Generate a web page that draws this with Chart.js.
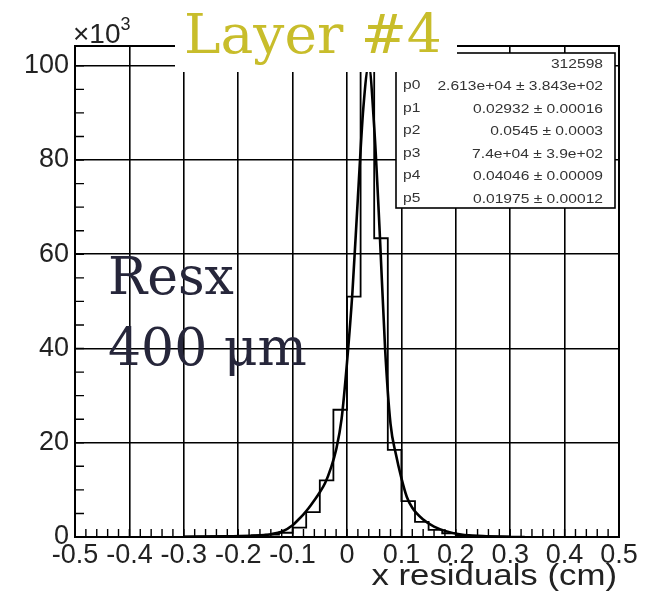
<!DOCTYPE html>
<html>
<head>
<meta charset="utf-8">
<script src="https://cdn.jsdelivr.net/npm/chart.js"></script>
<style>
  html, body { margin: 0; padding: 0; background: #fff; }
  #wrap { width: 648px; height: 597px; }
</style>
</head>
<body>
<div id="wrap"><canvas id="resChart" width="648" height="597"></canvas></div>
<script>
// x residuals histogram, 40 bins of 0.025 cm
const binEdges = [-0.5, -0.475, -0.45, -0.425, -0.4, -0.375, -0.35, -0.325, -0.3, -0.275,
    -0.25, -0.225, -0.2, -0.175, -0.15, -0.125, -0.1, -0.075, -0.05, -0.025,
    0, 0.025, 0.05, 0.075, 0.1, 0.125, 0.15, 0.175, 0.2, 0.225,
    0.25, 0.275, 0.3, 0.325, 0.35, 0.375, 0.4, 0.425, 0.45, 0.475, 0.5];
const binCounts = [0, 0, 0, 0, 0, 0, 0, 20, 50, 100,
    150, 200, 250, 350, 500, 900, 2000, 5300, 12000, 27000,
    51000, 99200, 63400, 18500, 7600, 3200, 1500, 800, 400, 250,
    150, 100, 50, 20, 0, 0, 0, 0, 0, 0];

// double gaussian fit
const fitX = [-0.30, -0.22, -0.17, -0.14, -0.12, -0.10, -0.09, -0.08, -0.07, -0.06,
    -0.05, -0.04, -0.03, -0.02, -0.01, 0.00, 0.01, 0.02, 0.03, 0.04,
    0.05, 0.06, 0.07, 0.08, 0.09, 0.10, 0.11, 0.12, 0.14, 0.16,
    0.18, 0.21, 0.25, 0.30];
const fitY = [50, 150, 300, 600, 1100, 2500, 3600, 4800, 6200, 7800,
    9500, 11500, 14500, 18500, 25000, 37000, 52000, 72000, 91000, 100000,
    87000, 65000, 40000, 24000, 17500, 12500, 8500, 6200, 3700, 2200,
    1300, 500, 200, 50];

const xTickValues = [-0.5, -0.4, -0.3, -0.2, -0.1, 0, 0.1, 0.2, 0.3, 0.4, 0.5];
const xTickLabels = ['-0.5', '-0.4', '-0.3', '-0.2', '-0.1', '0', '0.1', '0.2', '0.3', '0.4', '0.5'];
const yTickValues = [0, 20000, 40000, 60000, 80000, 100000];
const yTickLabels = ['0', '20', '40', '60', '80', '100'];

const statEntries = '312598';
const statNames = ['p0', 'p1', 'p2', 'p3', 'p4', 'p5'];
const statValues = ['2.613e+04 \u00b1 3.843e+02', '0.02932 \u00b1 0.00016', '0.0545 \u00b1 0.0003',
    '7.4e+04 \u00b1 3.9e+02', '0.04046 \u00b1 0.00009', '0.01975 \u00b1 0.00012'];

const histPoints = binCounts.map((c, i) => ({ x: binEdges[i], y: c }));
histPoints.push({ x: binEdges[binEdges.length - 1], y: binCounts[binCounts.length - 1] });
const fitPoints = fitX.map((v, i) => ({ x: v, y: fitY[i] }));

function wideText(ctx, text, x, y, align, sx) {
    ctx.save();
    ctx.translate(x, y);
    ctx.scale(sx, 1);
    ctx.textAlign = align;
    ctx.fillText(text, 0, 0);
    ctx.restore();
}

// frame, minor ticks, stats box and labels in ROOT style
const rootFrame = {
    id: 'rootFrame',
    afterDraw(chart) {
        const { ctx, chartArea: a } = chart;
        const xs = chart.scales.x, ys = chart.scales.y;
        ctx.save();
        ctx.strokeStyle = '#000';
        ctx.lineWidth = 1.4;
        ctx.beginPath();
        for (let k = -25; k <= 25; k++) {
            const px = xs.getPixelForValue(k * 0.02);
            ctx.moveTo(px, a.bottom);
            ctx.lineTo(px, a.bottom - 8);
        }
        for (let k = 0; k <= 20; k++) {
            const py = ys.getPixelForValue(k * 5000);
            ctx.moveTo(a.left, py);
            ctx.lineTo(a.left + 9, py);
        }
        ctx.stroke();

        ctx.lineWidth = 2;
        ctx.strokeRect(a.left, a.top, a.right - a.left, a.bottom - a.top);

        // stats box
        ctx.fillStyle = '#fff';
        ctx.fillRect(396, 53, 219, 155);
        ctx.lineWidth = 1.6;
        ctx.strokeRect(396, 53, 219, 155);
        ctx.fillStyle = '#333';
        ctx.font = '12px "Liberation Sans", Arial, sans-serif';
        ctx.textBaseline = 'alphabetic';
        wideText(ctx, statEntries, 603, 68, 'right', 1.3);
        statNames.forEach((n, i) => {
            const by = 90 + i * 22.5;
            wideText(ctx, n, 403, by - 1, 'left', 1.3);
            wideText(ctx, statValues[i], 603, by, 'right', 1.3);
        });

        // title box
        ctx.fillStyle = '#fff';
        ctx.fillRect(175, 0, 282, 72);
        ctx.fillStyle = '#c8bd2b';
        ctx.font = '55px "DejaVu Serif", serif';
        ctx.textAlign = 'left';
        ctx.fillText('Layer #4', 184, 53);

        // axis multiplier
        ctx.fillStyle = '#222';
        ctx.font = '28px "Liberation Sans", Arial, sans-serif';
        ctx.fillText('\u00d710', 73, 43);
        const w10 = ctx.measureText('\u00d710').width;
        ctx.font = '18px "Liberation Sans", Arial, sans-serif';
        ctx.fillText('3', 73 + w10, 30);

        // x axis title
        ctx.font = '30px "Liberation Sans", Arial, sans-serif';
        wideText(ctx, 'x residuals (cm)', 617, 585, 'right', 1.16);

        // resolution note
        ctx.fillStyle = '#26263a';
        ctx.font = '52px "DejaVu Serif", serif';
        ctx.textAlign = 'left';
        ctx.fillText('Resx', 108, 294);
        ctx.fillText('400 \u03bcm', 108, 365);
        ctx.restore();
    }
};

const tickFont = { family: '"Liberation Sans", Arial, sans-serif', size: 27 };

new Chart(document.getElementById('resChart'), {
    type: 'line',
    data: {
        datasets: [{
            label: 'fit',
            data: fitPoints,
            borderColor: '#000',
            borderWidth: 2.6,
            pointRadius: 0,
            cubicInterpolationMode: 'monotone',
            fill: false
        }, {
            label: 'hist',
            data: histPoints,
            borderColor: '#000',
            borderWidth: 1.8,
            pointRadius: 0,
            stepped: 'before',
            fill: false
        }]
    },
    options: {
        responsive: false,
        animation: false,
        devicePixelRatio: 1,
        layout: { padding: { top: 46, right: 29, left: 0, bottom: 0 } },
        plugins: {
            legend: { display: false },
            tooltip: { enabled: false }
        },
        scales: {
            x: {
                type: 'linear',
                min: -0.5,
                max: 0.5,
                afterFit: (s) => { s.height = 60; },
                afterBuildTicks: (s) => { s.ticks = xTickValues.map(v => ({ value: v })); },
                ticks: {
                    autoSkip: false,
                    maxRotation: 0,
                    padding: 2,
                    color: '#222',
                    font: tickFont,
                    callback: (v, i) => xTickLabels[i]
                },
                grid: { color: '#000', lineWidth: 1.6, drawTicks: false },
                border: { display: false }
            },
            y: {
                min: 0,
                max: 104200,
                afterFit: (s) => { s.width = 75; },
                afterBuildTicks: (s) => { s.ticks = yTickValues.map(v => ({ value: v })); },
                ticks: {
                    autoSkip: false,
                    padding: 6,
                    color: '#222',
                    font: tickFont,
                    callback: (v, i) => yTickLabels[i]
                },
                grid: { color: '#000', lineWidth: 1.6, drawTicks: false },
                border: { display: false }
            }
        }
    },
    plugins: [rootFrame]
});
</script>
</body>
</html>
